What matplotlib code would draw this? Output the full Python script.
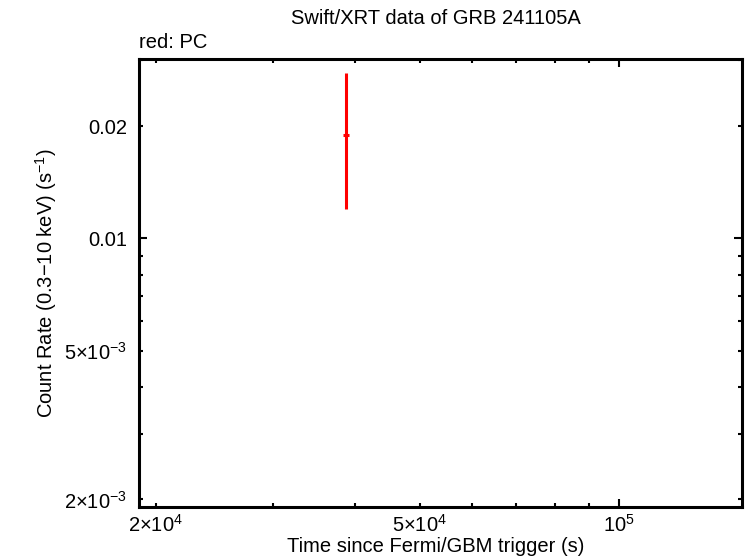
import matplotlib
matplotlib.use('Agg')
import matplotlib.pyplot as plt
from matplotlib.ticker import FixedLocator, FuncFormatter

# PC mode point
pc_time = [38700.0]
pc_time_err = [400.0]
pc_rate = [0.0189]
pc_rate_lo = [0.0189 - 0.0120]
pc_rate_hi = [0.0278 - 0.0189]

x_major = [1e4, 1e5]
x_minor = [2e4, 3e4, 4e4, 5e4, 6e4, 7e4, 8e4, 9e4, 2e5]
x_labeled = {2e4: r'$\mathregular{2{\times}10^{4}}$', 5e4: r'$\mathregular{5{\times}10^{4}}$',
             1e5: r'$\mathregular{10^{5}}$'}
y_major = [1e-3, 1e-2]
y_minor = [2e-3, 3e-3, 4e-3, 5e-3, 6e-3, 7e-3, 8e-3, 9e-3, 2e-2, 3e-2]
y_labeled = {2e-3: r'$\mathregular{2{\times}10^{-3}}$', 5e-3: r'$\mathregular{5{\times}10^{-3}}$',
             1e-2: '0.01', 2e-2: '0.02'}

plt.rcParams['font.family'] = ['Liberation Sans', 'DejaVu Sans']
plt.rcParams['mathtext.fontset'] = 'custom'
plt.rcParams['mathtext.rm'] = 'Liberation Sans'
plt.rcParams['mathtext.it'] = 'Liberation Sans:italic'
plt.rcParams['font.size'] = 14.5

fig = plt.figure(figsize=(7.46, 5.58), dpi=100)
W, H = 746, 558
ax = fig.add_axes([138.5 / W, 1 - 507.3 / H, (742 - 138.5) / W, (507.3 - 59.3) / H])

ax.errorbar(pc_time, pc_rate, xerr=[pc_time_err, pc_time_err],
            yerr=[pc_rate_lo, pc_rate_hi], fmt='none', ecolor='red',
            elinewidth=2.2, capsize=0)

ax.set_xscale('log')
ax.set_yscale('log')
ax.set_xlim(18820, 153400)
ax.set_ylim(1.905e-3, 0.0302)


def pick(table):
    def f(v, pos):
        for k, s in table.items():
            if abs(v - k) / k < 1e-6:
                return s
        return ''
    return f


ax.xaxis.set_major_locator(FixedLocator(x_major))
ax.xaxis.set_minor_locator(FixedLocator(x_minor))
ax.xaxis.set_major_formatter(FuncFormatter(pick(x_labeled)))
ax.xaxis.set_minor_formatter(FuncFormatter(pick(x_labeled)))
ax.yaxis.set_major_locator(FixedLocator(y_major))
ax.yaxis.set_minor_locator(FixedLocator(y_minor))
ax.yaxis.set_major_formatter(FuncFormatter(pick(y_labeled)))
ax.yaxis.set_minor_formatter(FuncFormatter(pick(y_labeled)))

for which, length in (('major', 6.0), ('minor', 3.0)):
    ax.tick_params(axis='both', which=which, direction='in', length=length,
                   width=1.5, top=True, right=True, labelsize=14.5)
ax.tick_params(axis='x', which='both', pad=5)
ax.tick_params(axis='y', which='both', pad=8)
for sp in ax.spines.values():
    sp.set_linewidth(2.2)

fig.text(436 / W, 1 - 547 / H, 'Time since Fermi/GBM trigger (s)', ha='center', va='center', fontsize=14.5)
fig.text(46 / W, 1 - 283 / H, r'Count Rate (0.3$\mathregular{-}$10 keV) (s$\mathregular{^{-1}}$)',
         ha='center', va='center', rotation=90, fontsize=14.5)
fig.text(436 / W, 1 - 19 / H, 'Swift/XRT data of GRB 241105A', ha='center', va='center', fontsize=14.5)
fig.text(139 / W, 1 - 43 / H, 'red: PC', ha='left', va='center', fontsize=14.5)

fig.savefig('out.png', dpi=100)
